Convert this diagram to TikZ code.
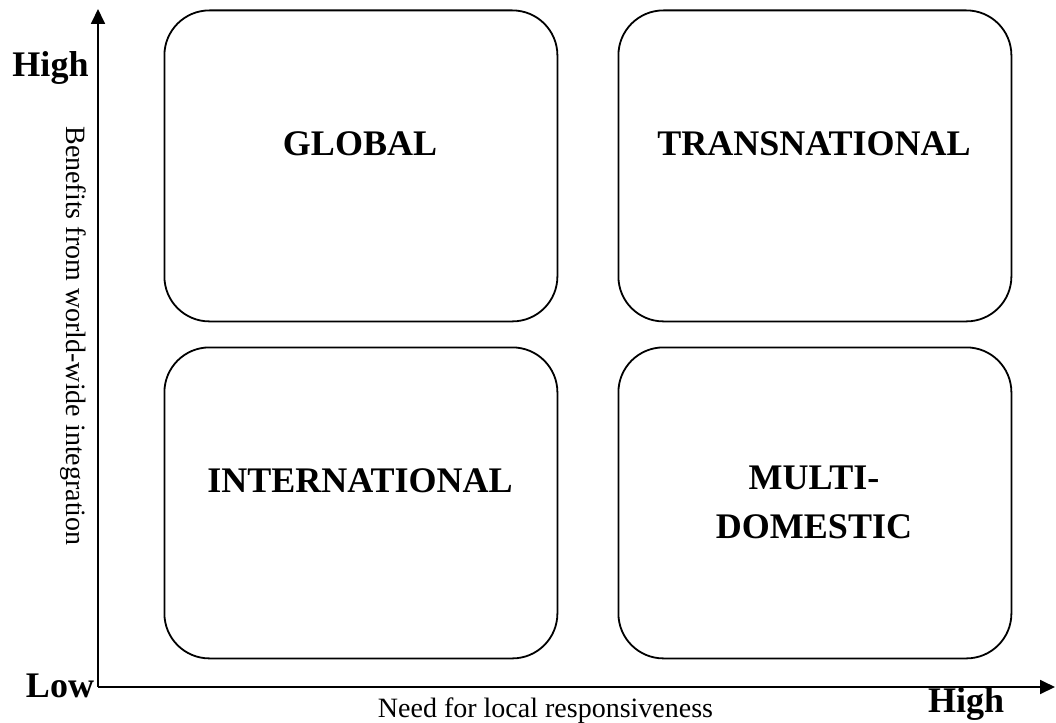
\documentclass[tikz,border=0pt]{standalone}
\usepackage{fontspec}
\setmainfont{Liberation Serif}
\usetikzlibrary{arrows.meta}
\begin{document}
\begin{tikzpicture}[x=1pt,y=-1pt,
  quad/.style={draw=black,line width=1.8pt,rounded corners=45pt,minimum width=393pt,minimum height=311pt,inner sep=0pt,anchor=north west},
  qlabel/.style={font=\fontsize{36}{49}\selectfont\bfseries,align=center,anchor=base,inner sep=0pt},
  axislabel/.style={font=\fontsize{36}{40}\selectfont\bfseries,anchor=base,inner sep=0pt},
  axisline/.style={line width=1.8pt,-{Triangle[length=15pt,width=14pt]}},
  axistitle/.style={font=\fontsize{28}{32}\selectfont,inner sep=0pt}]
\useasboundingbox (0,0) rectangle (1056,722);
% boxes
\node[quad] (global) at (163.5,9.5) {};
\node[quad] (trans) at (617.5,9.5) {};
\node[quad] (inter) at (163.5,346.5) {};
\node[quad] (multi) at (617.5,346.5) {};
% box labels
\node[qlabel] (tglobal) at (360,156) {GLOBAL};
\node[qlabel] (ttrans) at (814,156) {TRANSNATIONAL};
\node[qlabel] (tinter) at (360,492) {INTERNATIONAL};
\node[qlabel,anchor=north] (tmulti) at (814,466) {MULTI-\\DOMESTIC};
% axes
\coordinate (origin) at (98,687);
\coordinate (ytip) at (98,9);
\coordinate (xtip) at (1055,687);
\draw[axisline] (origin) -- (ytip);
\draw[axisline] (origin) -- (xtip);
% axis labels
\node[axislabel] (yhigh) at (50.5,77) {High};
\node[axislabel] (low) at (60,697) {Low};
\node[axislabel] (xhigh) at (966,712) {High};
\node[axistitle,anchor=base] (xtitle) at (545.5,717) {Need for local responsiveness};
\node[axistitle,rotate=-90] (ytitle) at (73,336) {Benefits from world-wide integration};
\end{tikzpicture}
\end{document}
